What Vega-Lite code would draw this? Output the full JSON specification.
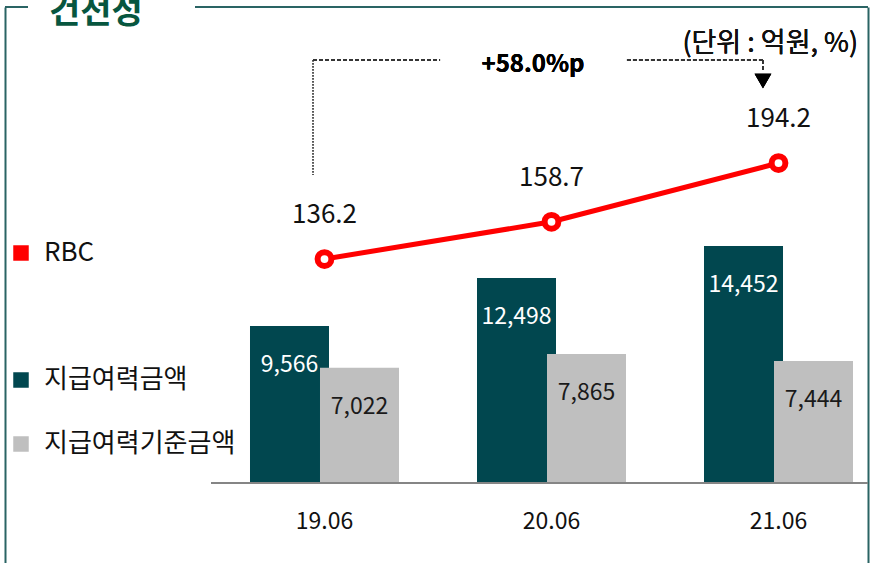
{
  "$schema": "https://vega.github.io/schema/vega-lite/v6.json",
  "autosize": "none",
  "width": 863,
  "height": 556,
  "padding": {"left": 5, "top": 7, "right": 9, "bottom": 0},
  "background": "white",
  "config": {"view": {"stroke": null}, "font": "Noto Sans CJK KR"},
  "title": {"text": "건전성", "orient": "top", "anchor": "start", "frame": "group", "offset": 0, "dx": 44, "dy": 51, "baseline": "alphabetic", "fontSize": 34, "fontWeight": "bold", "color": "#07563F", "font": "Noto Sans CJK KR"},
  "datasets": {
    "bars": [
      {"period": "19.06", "series": "지급여력금액", "value": 9566},
      {"period": "20.06", "series": "지급여력금액", "value": 12498},
      {"period": "21.06", "series": "지급여력금액", "value": 14452},
      {"period": "19.06", "series": "지급여력기준금액", "value": 7022},
      {"period": "20.06", "series": "지급여력기준금액", "value": 7865},
      {"period": "21.06", "series": "지급여력기준금액", "value": 7444}
    ],
    "rbc": [
      {"period": "19.06", "series": "RBC", "rbc": 136.2},
      {"period": "20.06", "series": "RBC", "rbc": 158.7},
      {"period": "21.06", "series": "RBC", "rbc": 194.2}
    ]
  },
  "layer": [
    {
      "data": {"name": "bars"},
      "layer": [
        {
          "mark": {"type": "bar", "width": 79},
          "encoding": {
            "x": {"field": "period", "type": "nominal", "sort": ["19.06", "20.06", "21.06"],
              "scale": {"range": [249.5, 843.5], "paddingInner": 0.3833, "paddingOuter": 0},
              "axis": {"orient": "bottom", "offset": -80, "domain": false, "ticks": false, "grid": false, "title": null, "labelAngle": 0, "labelFontSize": 23, "labelPadding": 27, "labelColor": "#111", "labelFont": "Noto Sans CJK KR"}},
            "xOffset": {"field": "series", "type": "nominal", "sort": ["지급여력금액", "지급여력기준금액"], "scale": {"paddingInner": 0, "paddingOuter": 0}},
            "y": {"field": "value", "type": "quantitative", "scale": {"domain": [-4878, 29024], "nice": false, "zero": false},
              "axis": {"orient": "left", "domain": true, "domainColor": "#2A6464", "domainWidth": 2, "labels": false, "ticks": false, "grid": false, "title": null}},
            "color": {"field": "series", "type": "nominal", "sort": ["지급여력금액", "지급여력기준금액"],
              "scale": {"range": ["#01474F", "#BFBFBF"]},
              "legend": {"orient": "none", "legendX": 3, "legendY": 360, "title": null, "symbolType": "square", "symbolSize": 240, "symbolStrokeWidth": 0, "labelFontSize": 26, "labelOffset": 10, "labelLimit": 400, "rowPadding": 38, "labelColor": "#111", "labelFont": "Noto Sans CJK KR", "padding": 0}}
          }
        },
        {
          "mark": {"type": "text", "baseline": "middle", "dy": 39, "fontSize": 23},
          "encoding": {
            "x": {"field": "period", "type": "nominal", "sort": ["19.06", "20.06", "21.06"]},
            "xOffset": {"field": "series", "type": "nominal", "sort": ["지급여력금액", "지급여력기준금액"]},
            "y": {"field": "value", "type": "quantitative"},
            "text": {"field": "value", "type": "quantitative", "format": ","},
            "fill": {"field": "series", "type": "nominal", "sort": ["지급여력금액", "지급여력기준금액"], "scale": {"range": ["#FFFFFF", "#1A1A1A"]}, "legend": null}
          }
        },
        {
          "mark": {"type": "rule", "color": "#858585", "strokeWidth": 2, "strokeDash": [657, 1000]},
          "encoding": {"y": {"datum": 0}}
        },
        {
          "mark": {"type": "rule", "color": "#2A6464", "strokeWidth": 2, "strokeDash": [673, 167, 100]},
          "encoding": {"y": {"datum": 29024}}
        }
      ]
    },
    {
      "data": {"name": "rbc"},
      "layer": [
        {
          "mark": {"type": "line", "strokeWidth": 5},
          "encoding": {
            "x": {"field": "period", "type": "nominal", "sort": ["19.06", "20.06", "21.06"]},
            "y": {"field": "rbc", "type": "quantitative", "scale": {"domain": [-47.5, 288.5], "nice": false, "zero": false},
              "axis": {"orient": "right", "domain": true, "domainColor": "#2A6464", "domainWidth": 2, "labels": false, "ticks": false, "grid": false, "title": null}},
            "color": {"field": "series", "type": "nominal", "scale": {"range": ["#FF0000"]},
              "legend": {"orient": "none", "legendX": 3, "legendY": 233, "title": null, "symbolType": "square", "symbolSize": 240, "symbolStrokeWidth": 0, "symbolFillColor": "#FF0000", "labelFontSize": 26, "labelOffset": 10, "labelColor": "#111", "labelFont": "Noto Sans CJK KR", "padding": 0,
                "encode": {"symbols": {"update": {"fill": {"value": "#FF0000"}, "strokeWidth": {"value": 0}}}}}}
          }
        },
        {
          "mark": {"type": "point", "filled": false, "fill": "#FFFFFF", "stroke": "#FF0000", "strokeWidth": 6, "size": 190, "opacity": 1},
          "encoding": {
            "x": {"field": "period", "type": "nominal", "sort": ["19.06", "20.06", "21.06"]},
            "y": {"field": "rbc", "type": "quantitative"}
          }
        },
        {
          "mark": {"type": "text", "baseline": "middle", "dy": -44, "fontSize": 26, "color": "#111"},
          "encoding": {
            "x": {"field": "period", "type": "nominal", "sort": ["19.06", "20.06", "21.06"]},
            "y": {"field": "rbc", "type": "quantitative"},
            "text": {"field": "rbc", "type": "quantitative", "format": ".1f"}
          }
        },
        {
          "mark": {"type": "rule", "color": "#555555", "strokeWidth": 1.5, "strokeDash": [1.5, 1.5]},
          "encoding": {
            "x": {"datum": "19.06", "bandPosition": 0.418},
            "y": {"datum": 256.4},
            "y2": {"datum": 187}
          }
        },
        {
          "mark": {"type": "rule", "color": "#333333", "strokeWidth": 1.5, "strokeDash": [4, 2]},
          "encoding": {
            "x": {"datum": "19.06", "bandPosition": 0.418},
            "x2": {"datum": "20.06", "bandPosition": -0.296},
            "y": {"datum": 256.4}
          }
        },
        {
          "mark": {"type": "rule", "color": "#333333", "strokeWidth": 1.5, "strokeDash": [4, 2]},
          "encoding": {
            "x": {"datum": "20.06", "bandPosition": 1.039},
            "x2": {"datum": "21.06", "bandPosition": 0.389},
            "y": {"datum": 256.4}
          }
        },
        {
          "mark": {"type": "rule", "color": "#333333", "strokeWidth": 1.5, "strokeDash": [4, 2]},
          "encoding": {
            "x": {"datum": "21.06", "bandPosition": 0.389},
            "y": {"datum": 256.4},
            "y2": {"datum": 250.4}
          }
        },
        {
          "mark": {"type": "point", "shape": "triangle-down", "filled": true, "color": "#000000", "size": 280, "opacity": 1},
          "encoding": {
            "x": {"datum": "21.06", "bandPosition": 0.389},
            "y": {"datum": 243.8}
          }
        },
        {
          "mark": {"type": "text", "text": "+58.0%p", "fontSize": 24, "fontWeight": "bold", "color": "#000000", "baseline": "middle", "align": "center"},
          "encoding": {
            "x": {"datum": "20.06", "bandPosition": 0.368},
            "y": {"datum": 253.4}
          }
        },
        {
          "mark": {"type": "text", "text": "(단위 : 억원, %)", "fontSize": 27, "fontWeight": "normal", "color": "#111", "baseline": "middle", "align": "right"},
          "encoding": {
            "x": {"datum": "21.06", "bandPosition": 1.068},
            "y": {"datum": 266.1}
          }
        }
      ]
    }
  ],
  "resolve": {"scale": {"y": "independent", "color": "independent"}}
}
